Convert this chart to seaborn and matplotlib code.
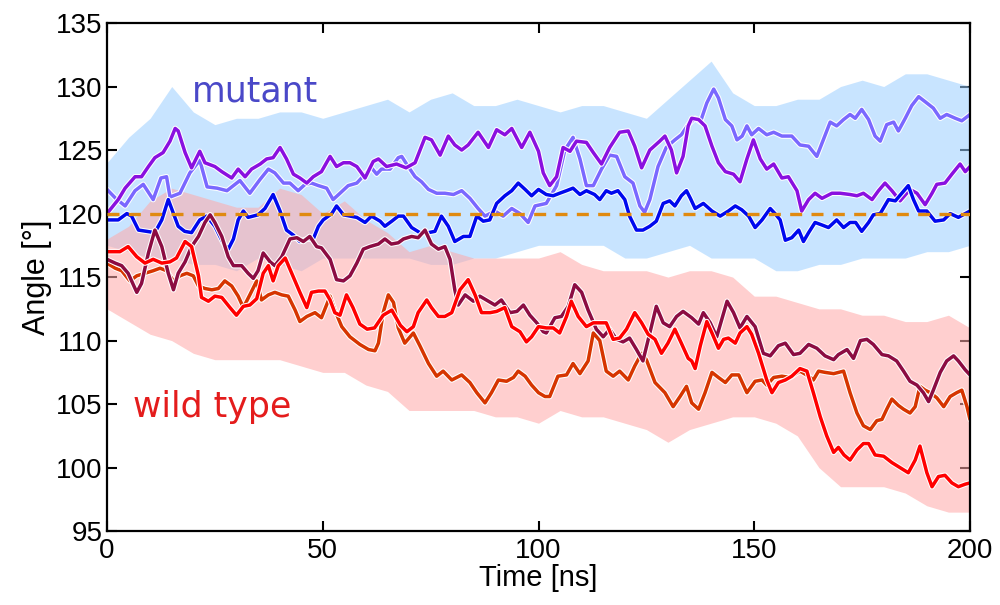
import numpy as np
import pandas as pd
import seaborn as sns
import matplotlib
matplotlib.use("Agg")
import matplotlib.pyplot as plt
import matplotlib.patheffects as pe

# ---------------- data ----------------
# mutant, smoothed traces
t_purple = [0, 2.6, 4.2, 6.5, 8, 9.6, 11.1, 13, 14.6, 15.8, 16.5, 18.1, 19.6, 21.5, 22.7, 25, 26.6, 28.9, 30.4, 32,
            33.5, 35.5, 37, 38.5, 40.1, 41.6, 43.2, 44.7, 46.3, 47.8, 49.7, 51.7, 53.2, 54.8, 56.3, 57.9, 59.8, 61.7,
            62.9, 64.8, 67.1, 69.3, 71.4, 73.7, 75.2, 77.2, 79.1, 80.6, 82.2, 83.7, 86, 88.4, 90.3, 92.2, 93.8, 96.1,
            98, 100, 101.1, 102.6, 104.2, 105.7, 107.3, 108.8, 111.1, 112.7, 114.6, 116.5, 118.8, 120.8, 122.3, 123.9,
            125.8, 128.1, 129.3, 130.8, 132, 133.5, 134.7, 135.5, 137.1, 138.6, 140.2, 141.7, 143.3, 145.2, 146.7,
            148.3, 149.8, 151.4, 152.9, 154.5, 156.4, 157.9, 159.9, 161, 162.6, 164.1, 165.7, 168, 169.9, 172.2,
            173.8, 175.3, 177.3, 178.8, 180.3, 181.9, 183.8, 186.1, 187.7, 189.6, 191.2, 192.3, 194.2, 195.8, 197.7,
            198.9, 200]
a_purple = [120.0, 121.1, 122.0, 122.9, 122.9, 123.7, 124.4, 124.8, 125.7, 126.7, 126.5, 124.8, 123.6, 124.9, 124.0,
            123.7, 123.3, 122.8, 123.5, 122.9, 123.5, 123.9, 124.3, 124.4, 125.2, 124.3, 123.1, 122.8, 122.4, 122.9,
            123.3, 124.5, 123.7, 124.0, 124.0, 123.7, 122.8, 124.1, 124.3, 123.7, 123.9, 123.6, 124.0, 126.0, 125.8,
            124.6, 126.1, 125.4, 125.0, 125.4, 126.4, 125.2, 126.6, 126.2, 126.7, 125.2, 126.4, 124.9, 123.2, 122.2,
            122.9, 125.2, 124.9, 125.7, 125.6, 124.8, 123.9, 125.2, 126.4, 126.5, 125.3, 123.6, 125.0, 125.7, 126.1,
            125.0, 123.2, 124.5, 126.9, 127.5, 127.4, 126.9, 125.3, 124.0, 123.3, 123.1, 122.5, 124.3, 125.8, 124.3,
            123.5, 123.9, 122.8, 122.9, 121.8, 120.2, 121.1, 121.6, 121.2, 121.6, 121.6, 121.5, 121.4, 121.6, 121.1,
            121.8, 122.4, 121.8, 121.0, 121.9, 121.6, 120.7, 121.6, 122.3, 122.4, 123.1, 123.9, 123.3, 123.7]

t_lilac = [0, 2, 4.2, 6.5, 8.4, 10.7, 12.5, 13.8, 14.6, 16.9, 19.2, 21.5, 23.2, 25.5, 27.8, 30.8, 33.1, 35.5, 37.4,
           38.9, 40.9, 42.4, 44.3, 45.9, 47.4, 49, 50.9, 52.4, 54, 55.9, 57.9, 59.8, 61.3, 62.5, 63.6, 65.6, 67.5, 68.3,
           69.8, 71.4, 72.9, 74.5, 76.4, 78.3, 80.3, 82.2, 84.1, 86, 87.6, 89.9, 91.8, 93.8, 95.7, 97.6, 99.2, 101.8,
           104.2, 106.1, 108, 109.6, 111.1, 112.7, 114.6, 116.5, 118.1, 120, 121.9, 123.5, 124.6, 125.8, 127.7, 129.6,
           131.6, 133.1, 134.7, 136.3, 137.5, 139, 140.6, 141.7, 143.3, 144.8, 146, 147.2, 148.3, 149.4, 151, 152.9,
           154.5, 156.4, 158.7, 160.6, 162.6, 164.5, 166, 167.6, 169.1, 170.7, 172.2, 173.4, 174.9, 176.5, 178, 179.2,
           180.7, 182.3, 183.4, 185, 186.5, 188.1, 190, 191.5, 193.1, 194.6, 196.6, 198.1, 200]
a_lilac = [121.9, 121.2, 120.6, 121.8, 122.3, 121.1, 122.8, 122.9, 121.3, 121.6, 123.2, 124.2, 122.1, 122.0, 121.8,
           122.6, 121.6, 122.7, 123.5, 123.2, 122.4, 122.4, 121.8, 122.3, 122.4, 122.2, 122.0, 121.1, 121.6, 122.2,
           122.4, 123.1, 123.6, 123.1, 123.5, 123.5, 124.4, 124.5, 123.7, 122.9, 122.5, 121.9, 121.6, 121.6, 121.5,
           121.8, 121.2, 120.4, 119.8, 120.2, 119.8, 120.4, 120.0, 119.3, 120.6, 120.8, 122.2, 125.0, 126.0, 124.3,
           122.2, 122.2, 123.5, 124.6, 124.5, 122.9, 122.4, 120.6, 120.1, 121.1, 123.7, 125.2, 125.8, 126.2, 127.0,
           127.5, 127.2, 128.7, 129.8, 129.1, 127.4, 126.9, 125.8, 126.1, 126.9, 126.2, 126.7, 126.2, 126.4, 126.1,
           126.1, 125.4, 125.3, 124.5, 125.8, 127.2, 126.9, 127.4, 127.8, 127.5, 128.2, 127.4, 126.1, 125.7, 127.0,
           127.2, 126.5, 127.5, 128.5, 129.2, 128.7, 128.3, 127.5, 127.8, 127.5, 127.3, 127.8]

t_blue = [0, 2.6, 4.6, 5.7, 7.3, 9.2, 11.1, 12.7, 14.2, 15.4, 16.5, 18, 19.6, 21.5, 23.1, 25, 26.9, 28.1, 29.3, 30.4,
          31.6, 32.7, 33.9, 35, 36.6, 38.5, 40.1, 41.6, 43.2, 44.7, 46.3, 47.8, 49, 50.1, 52.1, 53.2, 54.8, 56.3,
          57.9, 59.8, 61.3, 63.3, 64.4, 66, 67.5, 68.7, 70.6, 72.5, 74.5, 76, 77.5, 79.1, 80.6, 82.6, 84.1, 85.7,
          87.2, 88.7, 90.3, 92.2, 93.8, 95.3, 96.9, 98.4, 100, 101.8, 103.4, 104.9, 106.5, 108, 109.6, 111.1, 113,
          114.2, 115.7, 116.9, 118.4, 120, 121.1, 122.7, 124.2, 125.8, 127.3, 128.9, 130.4, 131.6, 133.1, 134.3,
          135.2, 136.3, 138.2, 140.2, 142.1, 144, 145.6, 147.1, 148.7, 150.2, 151.8, 153.7, 154.8, 156, 157.2, 158.7,
          160.3, 161.4, 162.6, 164.1, 165.7, 167.2, 169.1, 170.7, 172.2, 173.5, 174.9, 176.5, 177.6, 179.2, 181.1,
          182.7, 184.2, 185.7, 186.9, 188.1, 190, 191.9, 193.9, 195.4, 197.3, 198.9, 200]
a_blue = [119.5, 119.5, 120.0, 119.8, 118.7, 118.6, 118.5, 119.5, 121.1, 120.0, 119.0, 118.6, 118.5, 119.5, 119.8,
          119.0, 117.7, 117.2, 118.0, 119.5, 120.2, 119.7, 119.8, 119.9, 120.4, 121.5, 120.2, 118.7, 118.3, 117.8,
          118.0, 118.0, 119.0, 119.5, 120.0, 120.6, 119.9, 119.8, 119.7, 119.3, 119.8, 119.4, 119.0, 119.4, 119.8,
          119.8, 118.9, 118.5, 118.5, 118.6, 119.8, 119.0, 117.8, 118.2, 118.2, 119.8, 119.4, 119.5, 120.8, 121.4,
          121.8, 122.4, 121.9, 121.4, 121.9, 121.5, 121.4, 121.6, 121.8, 122.0, 121.5, 121.8, 121.5, 121.1, 121.8,
          121.6, 121.8, 121.1, 119.8, 118.7, 118.7, 119.0, 119.4, 120.8, 121.0, 120.6, 121.4, 121.8, 121.2, 120.4,
          120.8, 120.2, 119.8, 120.2, 120.6, 120.3, 119.8, 118.9, 119.5, 120.4, 120.0, 119.5, 117.9, 118.1, 118.7,
          117.8, 118.5, 119.3, 119.1, 118.9, 119.5, 118.9, 119.3, 119.3, 118.6, 119.3, 119.9, 120.0, 121.1, 121.0,
          121.6, 122.2, 121.1, 120.2, 120.2, 119.4, 119.5, 120.0, 119.7, 120.0, 120.2]

# wild type, smoothed traces
t_red = [0, 3, 4.9, 6.9, 8.8, 10.7, 12.7, 14.6, 16.1, 18.1, 19.6, 21.2, 21.9, 23.5, 25, 26.6, 28.5, 30, 31.6, 33.1,
         34.7, 36.2, 37.4, 38.5, 39.7, 41.3, 42.8, 44.7, 46.3, 47.4, 49, 50.5, 51.7, 52.8, 54, 55.5, 57, 58.6, 60.3,
         62, 64, 66, 68, 69.5, 71, 72.1, 74.1, 75.2, 76.8, 78.3, 79.9, 81.8, 83.7, 85.3, 86.8, 88.8, 90.3, 92.2, 93.8,
         95.7, 97.2, 98.4, 100, 101.8, 103.4, 104.9, 106.5, 107.6, 109.2, 111.1, 112.7, 114.2, 115.7, 117.3, 118.8,
         120.4, 122.3, 123.9, 125.4, 127, 128.5, 130, 131.6, 133.1, 134.7, 135.5, 136.3, 137.5, 139, 140.2, 141.7,
         142.9, 144, 145.6, 146.7, 148.3, 149.4, 151, 152.9, 154.1, 155.6, 157.2, 158.7, 160.6, 162.2, 163.7, 165.3,
         166.8, 168.4, 169.5, 170.8, 172.2, 173.8, 175.3, 176.5, 178, 180, 181.9, 183.8, 185.7, 187.3, 188.4, 190,
         191.2, 192.7, 194.2, 195.8, 197.3, 198.9, 200]
a_red = [117.0, 117.0, 117.4, 116.6, 116.1, 116.4, 116.1, 116.2, 116.5, 117.8, 117.4, 115.1, 113.4, 113.1, 113.5,
         113.4, 112.6, 112.0, 112.7, 112.8, 113.3, 115.3, 115.9, 114.7, 115.9, 116.5, 115.3, 113.8, 112.6, 113.8,
         113.9, 113.9, 113.2, 112.2, 112.0, 113.6, 112.6, 111.3, 110.9, 111.0, 112.0, 112.4, 111.2, 110.7, 111.1,
         112.2, 113.2, 112.6, 111.9, 111.9, 112.2, 114.0, 114.8, 113.6, 112.2, 112.2, 112.3, 112.6, 111.1, 110.7,
         109.9, 110.3, 111.1, 111.0, 111.0, 110.6, 111.9, 113.1, 111.9, 111.1, 111.4, 111.4, 111.4, 110.1, 110.2,
         110.9, 112.2, 111.4, 110.5, 110.1, 109.0, 109.8, 110.9, 109.8, 108.6, 108.4, 107.8, 109.6, 111.5, 110.6,
         109.4, 110.1, 110.2, 109.8, 110.6, 111.1, 110.5, 109.0, 106.9, 105.9, 106.7, 106.9, 107.2, 107.8, 107.6,
         105.9, 104.0, 102.5, 101.2, 101.6, 101.0, 100.6, 101.4, 101.9, 101.9, 101.0, 100.9, 100.4, 100.0, 99.6,
         100.6, 101.7, 99.6, 98.5, 99.3, 99.4, 98.8, 98.5, 98.7, 98.8]

t_orange = [0, 1.9, 3.4, 5.3, 6.9, 8.8, 10.7, 12.3, 13.8, 15.4, 16.9, 18.5, 20, 21.2, 22.7, 24.3, 25.8, 27.3, 28.9,
            30.4, 31.6, 33.1, 34.7, 35.8, 37.4, 38.9, 40.5, 42, 43.6, 44.7, 46.3, 48.2, 49.7, 51.7, 52.8, 54.4, 56.3,
            58.6, 60.6, 62.1, 62.9, 64, 65.2, 66.4, 67.5, 69, 71, 72.5, 74.5, 76.4, 77.9, 79.9, 82.2, 84.1, 85.7, 87.6,
            89.1, 90.7, 92.6, 94.2, 95.3, 96.9, 98.4, 100, 101.5, 102.6, 104.5, 106.5, 108, 109.6, 111.5, 112.7,
            114.2, 115.7, 117.3, 118.8, 120.8, 122.3, 123.9, 125, 127, 129.3, 131.2, 132.8, 134.3, 135.5, 137.1,
            138.6, 140.2, 141.7, 143.3, 144.8, 146.4, 148.3, 150.2, 151.8, 152.9, 154.5, 156.4, 158.3, 160.6, 162.6,
            163.7, 164.9, 166.4, 168.4, 170.7, 172.2, 173.8, 175.3, 176.9, 178.4, 179.6, 180.7, 181.9, 183.4, 184.6,
            186.1, 187.3, 188.4, 189.6, 190.8, 192.3, 193.9, 195.4, 196.9, 198.1, 199.3, 200]
a_orange = [116.1, 115.7, 115.5, 114.7, 115.1, 115.3, 115.5, 115.7, 115.5, 114.7, 115.1, 115.3, 115.1, 114.3, 114.1,
            114.0, 114.1, 114.7, 114.3, 113.5, 112.6, 113.6, 114.7, 113.2, 113.6, 113.8, 113.6, 113.5, 112.4, 111.5,
            111.9, 112.2, 111.8, 113.5, 112.4, 111.1, 110.3, 109.7, 109.3, 109.2, 109.8, 112.2, 113.6, 113.0, 111.0,
            109.8, 110.6, 109.6, 108.2, 107.2, 107.6, 106.9, 107.3, 106.7, 105.9, 105.1, 105.9, 106.9, 106.8, 107.1,
            107.6, 107.2, 106.5, 105.9, 105.6, 105.6, 107.2, 107.3, 108.2, 107.4, 108.4, 110.6, 110.0, 107.6, 107.2,
            107.6, 106.9, 108.0, 109.0, 108.5, 106.7, 105.9, 104.8, 105.6, 106.4, 105.1, 104.6, 105.9, 107.5, 107.1,
            106.7, 107.3, 107.3, 105.9, 106.8, 106.9, 106.5, 107.1, 107.2, 107.1, 107.6, 107.2, 106.9, 107.6, 107.5,
            107.4, 107.6, 105.9, 104.3, 103.3, 103.0, 103.7, 103.8, 104.6, 105.4, 104.9, 104.6, 104.3, 104.8, 106.4,
            106.1, 105.9, 105.5, 104.8, 105.6, 105.9, 106.1, 104.8, 103.8]

t_maroon = [0, 1.9, 3.4, 4.9, 6.9, 8, 9.6, 11.1, 12.7, 14.2, 15.4, 16.5, 18.1, 19.6, 21.2, 22.7, 23.9, 25, 26.6, 28.1,
            29.3, 31.2, 32.7, 33.9, 35, 36.2, 37.8, 38.9, 40.5, 42.4, 44, 45.5, 47, 48.6, 49.7, 51.7, 53.2, 54.8, 56.3,
            57.9, 59.4, 60.9, 62.9, 64.4, 65.9, 67.5, 68.7, 70.6, 72.1, 73.7, 75.2, 76.8, 78.3, 79.5, 80.6, 81.4, 83,
            84.9, 86.4, 88.4, 89.9, 91.4, 93.4, 95, 96.5, 98, 99.6, 101.1, 101.8, 103.8, 105.3, 106.9, 108.4, 110,
            111.5, 113.4, 115, 116.5, 118.1, 119.6, 121.1, 122.7, 124.2, 125.8, 127.3, 128.9, 130.4, 132, 133.5, 135.5,
            137.1, 138.2, 139.8, 141.3, 143.7, 145.2, 146.7, 148.3, 150.2, 152.1, 153.7, 155.6, 157.2, 159.1, 160.6,
            162.6, 164.5, 166.4, 168.4, 169.5, 171.5, 173, 174.6, 176.1, 177.6, 179.6, 181.1, 183, 184.6, 186.1, 187.7,
            189.2, 190.4, 191.5, 193.1, 194.6, 196.2, 197.3, 198.9, 200]
a_maroon = [116.4, 116.1, 115.9, 115.3, 113.8, 114.5, 116.9, 118.7, 117.4, 115.3, 114.0, 115.3, 116.2, 117.4, 118.2,
            119.3, 119.9, 119.3, 118.2, 116.6, 115.9, 115.9, 115.3, 114.9, 115.5, 116.9, 116.2, 115.9, 116.6, 118.0,
            118.1, 117.8, 118.2, 117.4, 117.3, 116.4, 114.8, 114.7, 115.1, 116.1, 117.2, 117.4, 117.6, 118.0, 117.6,
            117.7, 118.0, 118.2, 118.1, 118.7, 117.6, 117.2, 117.4, 116.4, 114.0, 112.8, 113.6, 113.1, 113.5, 113.1,
            112.8, 113.2, 112.2, 112.3, 112.8, 112.0, 111.4, 110.7, 110.6, 111.8, 111.9, 112.7, 114.4, 113.8, 112.4,
            110.9, 110.3, 110.9, 110.1, 109.9, 110.2, 109.3, 108.4, 110.6, 112.7, 111.4, 111.1, 111.9, 112.3, 111.8,
            111.3, 112.2, 111.4, 110.3, 113.1, 112.2, 111.0, 111.9, 111.1, 109.0, 108.8, 109.6, 109.8, 108.9, 109.0,
            109.7, 109.4, 108.8, 108.5, 108.9, 109.3, 108.6, 110.0, 110.1, 109.7, 108.9, 108.8, 108.4, 107.6, 106.8,
            106.5, 105.9, 105.2, 106.1, 107.5, 108.4, 108.8, 108.4, 107.7, 107.3]

# spread of the raw (unsmoothed) traces, every 5 ns
t_band = list(range(0, 205, 5))
mut_hi = [124, 126, 127.5, 130, 128, 127, 127.5, 127.5, 128, 128, 127.5, 128, 128.5, 129, 128, 129, 129.5, 128.5,
          128.5, 129, 128.5, 128, 128.5, 128.5, 128, 127.5, 129, 130.5, 132, 129.5, 128.5, 128.5, 129, 129, 130,
          130.5, 130, 131, 131, 130.5, 130]
mut_lo = [117.5, 117, 116.5, 116.5, 116, 116, 115.5, 116.5, 116, 115.5, 116.5, 116.5, 116.5, 116.5, 116.5, 116, 116,
          116.5, 116.5, 117, 117.5, 117.5, 117.5, 117.5, 116.5, 116.5, 117, 117.5, 116.5, 116.5, 116.5, 115.5, 115.5,
          116, 116, 116.5, 116.5, 116.5, 117, 117, 117.5]
wt_hi = [118, 119, 121, 122, 121.5, 121, 120.5, 120.5, 122, 121.5, 120, 121, 119.5, 118.5, 117, 117.5, 117, 116.5,
         116.5, 116.5, 116.5, 117, 116, 115.5, 115.5, 115.5, 115, 115.5, 115.5, 115, 113.5, 113.5, 113, 112.5, 112.5,
         112, 112, 111.5, 111.5, 112, 111]
wt_lo = [112.5, 111.5, 110.5, 110, 109, 108.5, 108.5, 108.5, 108.5, 108, 107.5, 107.5, 106.5, 106, 104.5, 104.5,
         104.5, 104.5, 104, 104, 103.5, 104.5, 104, 104, 103.5, 103, 102, 103, 103.5, 104, 104, 103.5, 102.5, 100,
         98.5, 98.5, 98.5, 98, 97, 96.5, 96.5]

series_names = ["mut1", "mut2", "mut3", "wt1", "wt2", "wt3"]
series_t = [t_lilac, t_purple, t_blue, t_orange, t_maroon, t_red]
series_a = [a_lilac, a_purple, a_blue, a_orange, a_maroon, a_red]
palette = {"mut1": "#7a68ff", "mut2": "#8a10e0", "mut3": "#0008ee",
           "wt1": "#d63500", "wt2": "#8c0c42", "wt3": "#ff0000"}

rows = []
for name, ts, vs in zip(series_names, series_t, series_a):
    for t, v in zip(ts, vs):
        rows.append((name, t, v))
df = pd.DataFrame(rows, columns=["series", "time", "angle"])

# ---------------- plot ----------------
sns.set_style("white")
plt.rcParams["font.family"] = ["Liberation Sans", "DejaVu Sans"]
plt.rcParams["text.color"] = "black"
plt.rcParams["axes.labelcolor"] = "black"
plt.rcParams["xtick.color"] = "black"
plt.rcParams["ytick.color"] = "black"

fig = plt.figure(figsize=(10, 6.05), dpi=100)
ax = fig.add_axes([0.107, 0.122, 0.863, 0.840])

ax.fill_between(t_band, mut_lo, mut_hi, color="#9ccfff", alpha=0.55, lw=0)
ax.fill_between(t_band, wt_lo, wt_hi, color="#ffa8a8", alpha=0.55, lw=0)

sns.lineplot(data=df, x="time", y="angle", hue="series", palette=palette,
             hue_order=series_names, estimator=None, sort=False, legend=False,
             linewidth=2.5, ax=ax,
             path_effects=[pe.Stroke(linewidth=4.0, foreground="white"), pe.Normal()])

ax.axhline(120, color="#e08a10", lw=2.4, dashes=(3.6, 2.8), zorder=5)

ax.text(192 / 4.315 - 107 / 4.315, 128.3, "mutant", color="#4a48c8", fontsize=25,
        family="DejaVu Sans", va="bottom", ha="left")
ax.text(133 / 4.315 - 107 / 4.315, 103.4, "wild type", color="#e41c1c", fontsize=25,
        family="DejaVu Sans", va="bottom", ha="left")

ax.set_xlim(0, 200)
ax.set_ylim(95, 135)
ax.set_xticks([0, 50, 100, 150, 200])
ax.set_yticks(range(95, 136, 5))
ax.tick_params(direction="in", length=7, width=1.5, labelsize=20, top=True, right=True,
               bottom=True, left=True, pad=3)
ax.tick_params(axis="x", pad=5)
for s in ax.spines.values():
    s.set_linewidth(1.6)
    s.set_color("black")
ax.set_xlabel("Time [ns]", fontsize=21, labelpad=0)
ax.set_ylabel("Angle [°]", fontsize=22, labelpad=3)

fig.savefig("out.png", dpi=100)
